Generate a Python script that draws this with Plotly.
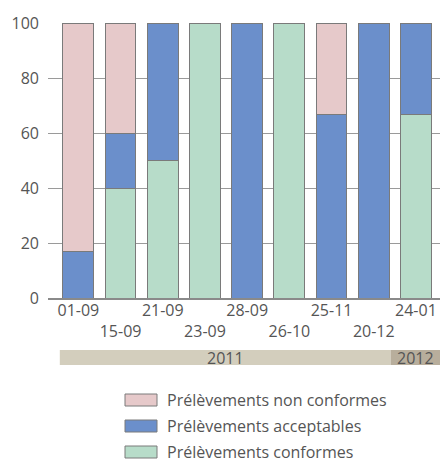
import plotly.graph_objects as go

dates = ["01-09", "15-09", "21-09", "23-09", "28-09", "26-10", "25-11", "20-12", "24-01"]
conformes = [0, 40, 50, 100, 0, 100, 0, 0, 66.7]
acceptables = [17, 20, 50, 0, 100, 0, 66.7, 100, 33.3]
non_conformes = [83, 40, 0, 0, 0, 0, 33.3, 0, 0]
series_names = ["Prélèvements non conformes", "Prélèvements acceptables", "Prélèvements conformes"]
years = ["2011", "2012"]
y_ticks = [0, 20, 40, 60, 80, 100]

C_NON = "#e6c9ca"
C_ACC = "#6b8fcb"
C_CON = "#b7dcc9"
LINE = "#7a7a7a"
FONT = "Open Sans"
TXT = "#555555"

H = 464
PLOT_TOP = 23
PLOT_BOT = 298
PH = PLOT_BOT - PLOT_TOP

def py(p):
    return (PLOT_BOT - p) / PH

fig = go.Figure()
for vals, col, name in [(conformes, C_CON, series_names[2]),
                        (acceptables, C_ACC, series_names[1]),
                        (non_conformes, C_NON, series_names[0])]:
    fig.add_trace(go.Bar(x=list(range(len(dates))), y=vals, name=name,
                         marker=dict(color=col, line=dict(color=LINE, width=1)),
                         showlegend=False))

ticktext = [d if i % 2 == 0 else "<br>" + d for i, d in enumerate(dates)]

fig.update_layout(
    width=440, height=H,
    margin=dict(l=48, r=0, t=PLOT_TOP, b=H - PLOT_BOT),
    barmode="stack", bargap=0.27,
    plot_bgcolor="white", paper_bgcolor="white",
    font=dict(family=FONT, color=TXT, size=16),
    xaxis=dict(range=[-0.72, 8.57], tickvals=list(range(len(dates))), ticktext=ticktext,
               tickangle=0, showgrid=False, showline=True, linecolor="#8a8a8a", linewidth=1.5,
               ticks="", tickfont=dict(size=16, color=TXT), zeroline=False,
               ticklabelstandoff=-3),
    yaxis=dict(range=[0, 100], tickvals=y_ticks, showgrid=True, gridcolor="#9a9a9a",
               gridwidth=1.3, zeroline=False, showline=False, ticks="",
               tickfont=dict(size=16, color=TXT), ticklabelstandoff=8),
)

# year band
band_top, band_bot = py(350), py(365)
fig.add_shape(type="rect", xref="x", yref="paper", x0=-0.44, x1=7.4, y0=band_bot, y1=band_top,
              fillcolor="#d3cebd", line=dict(width=0), layer="below")
fig.add_shape(type="rect", xref="x", yref="paper", x0=7.4, x1=8.57, y0=band_bot, y1=band_top,
              fillcolor="#b8ae9c", line=dict(width=0), layer="below")
fig.add_annotation(x=(-0.44 + 7.4) / 2, y=(band_top + band_bot) / 2, xref="x", yref="paper",
                   text=years[0], showarrow=False, yanchor="middle",
                   font=dict(size=16, color=TXT))
fig.add_annotation(x=(7.4 + 8.57) / 2, y=(band_top + band_bot) / 2, xref="x", yref="paper",
                   text=years[1], showarrow=False, yanchor="middle",
                   font=dict(size=16, color=TXT))

# custom legend
legend_rows = [(400, C_NON, series_names[0]), (426, C_ACC, series_names[1]), (452, C_CON, series_names[2])]
W = 440 - 48
for cy, col, name in legend_rows:
    fig.add_shape(type="rect", xref="paper", yref="paper",
                  x0=(125 - 48) / W, x1=(157 - 48) / W, y0=py(cy + 6), y1=py(cy - 6),
                  fillcolor=col, line=dict(color=LINE, width=1))
    fig.add_annotation(x=(166 - 48) / W, y=py(cy), xref="paper", yref="paper", text=name,
                       showarrow=False, xanchor="left", yanchor="middle", borderpad=0,
                       font=dict(size=16, color=TXT))

fig.write_html("out.html", config={"displayModeBar": False},
               post_script="document.body.style.margin='0';document.body.style.overflow='hidden';")
